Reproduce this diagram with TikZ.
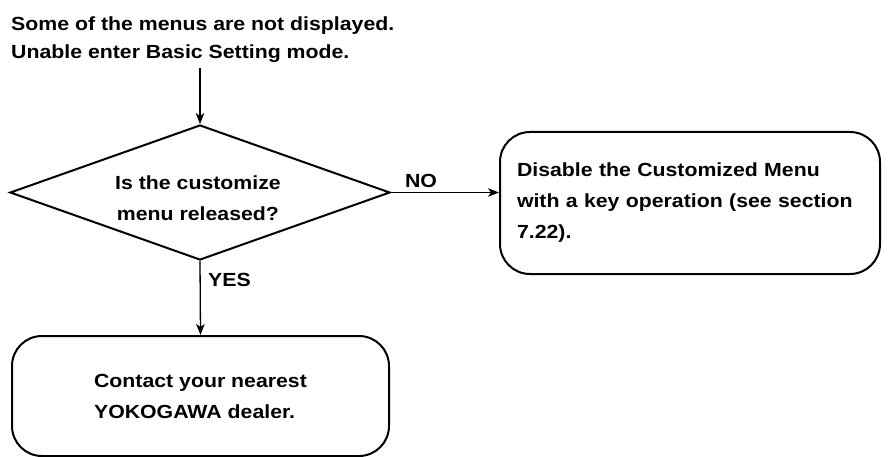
\documentclass[tikz,border=0pt]{standalone}
\usepackage{fontspec}
\setmainfont{Liberation Sans}[FakeStretch=1.12]
\usetikzlibrary{shapes.geometric,arrows.meta}
\begin{document}
\begin{tikzpicture}[x=1pt,y=-1pt,
  txt/.style={font=\fontsize{19}{31}\selectfont\bfseries},
  boxstyle/.style={draw, line width=2pt, rounded corners=30pt, txt},
  decision/.style={draw, diamond, aspect=2.8, line width=2pt, inner sep=0pt},
  conn/.style={line width=1.3pt, -{Stealth[length=11pt,width=8.5pt,inset=3pt]}},
  lbl/.style={txt}]
\useasboundingbox (0,0) rectangle (889,457);
\node[font=\fontsize{19}{28}\selectfont\bfseries, align=left, anchor=west, inner sep=0pt] (title) at (11,40)
  {Some of the menus are not displayed.\\Unable enter Basic Setting mode.};
\coordinate (start) at (200,68);
\node[decision, minimum width=380pt, minimum height=135pt] (dia) at (200,192.5) {};
\node[txt, align=center, inner sep=0pt] (diatext) at (198,198) {Is the customize\\menu released?};
\node[boxstyle, minimum width=380pt, minimum height=142pt, text width=346pt, inner xsep=17pt, align=left] (right) at (690,203)
  {Disable the Customized Menu\\with a key operation (see section\\7.22).};
\node[boxstyle, minimum width=377pt, minimum height=120pt, align=left] (bottom) at (200.5,396)
  {Contact your nearest\\YOKOGAWA dealer.};
\draw[conn] (start) -- (dia.north);
\draw[conn] (dia.east) -- (dia.east -| right.west);
\draw[conn] (dia.south) -- (bottom.north);
\node[lbl] (no) at (421,181) {NO};
\node[lbl, anchor=west, inner sep=0pt] (yes) at (208,280) {YES};
\end{tikzpicture}
\end{document}
